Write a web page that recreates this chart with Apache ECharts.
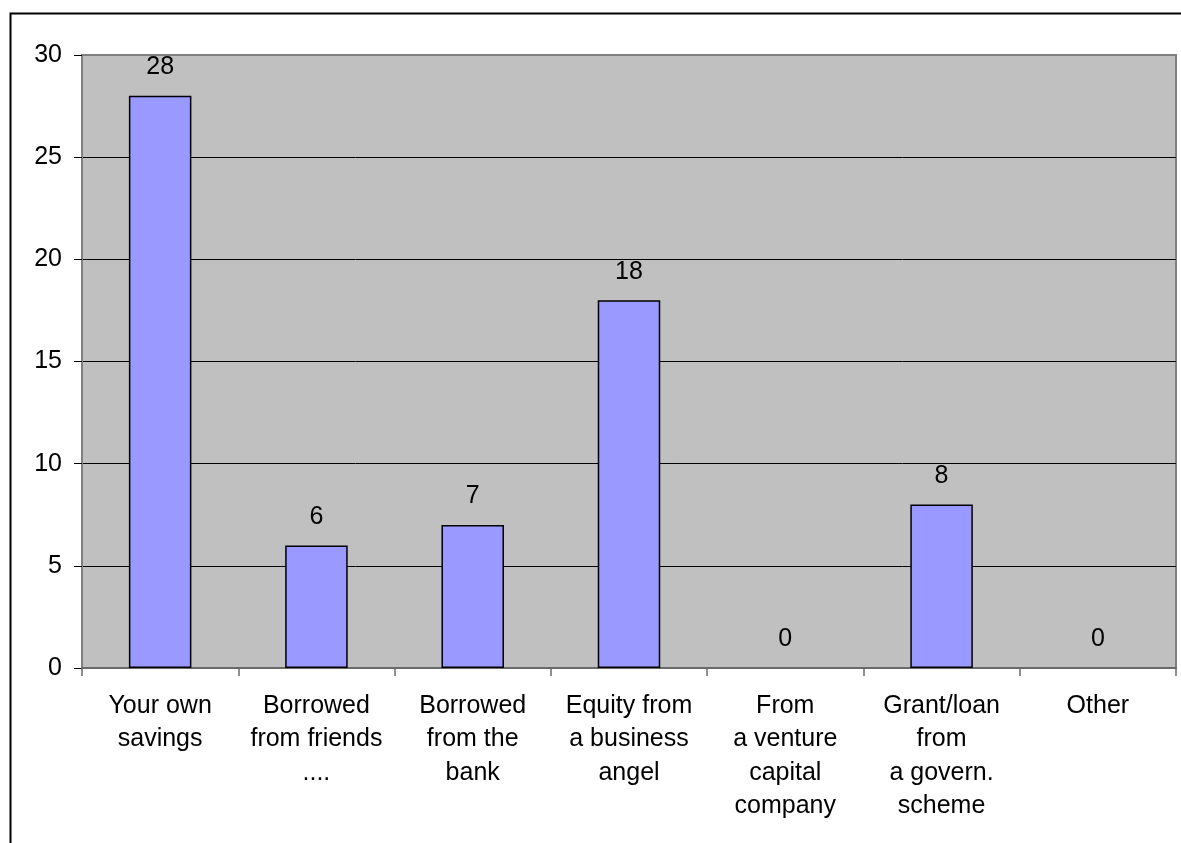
<!DOCTYPE html>
<html>
<head>
<meta charset="utf-8">
<script src="https://cdn.jsdelivr.net/npm/echarts@6/dist/echarts.min.js"></script>
<style>
  html, body { margin: 0; padding: 0; background: #fff; }
  #chart { width: 1181px; height: 843px; }
</style>
</head>
<body>
<div id="chart"></div>
<script>
// Sources of start-up finance: number of responses per source
const categories = [
  'Your own\nsavings',
  'Borrowed\nfrom friends\n....',
  'Borrowed\nfrom the\nbank',
  'Equity from\na business\nangel',
  'From\na venture\ncapital\ncompany',
  'Grant/loan\nfrom\na govern.\nscheme',
  'Other'
];
const responses = [28, 6, 7, 18, 0, 8, 0];
const yTicks = { min: 0, max: 30, interval: 5 };

const FONT = '"Liberation Sans", Arial, sans-serif';
const chart = echarts.init(document.getElementById('chart'), null, { renderer: 'canvas' });

// empty bars get no outline so only their value label shows
const barData = responses.map(v => (v === 0 ? { value: v, itemStyle: { borderWidth: 0 } } : v));

chart.setOption({
  backgroundColor: '#ffffff',
  animation: false,
  graphic: [{
    type: 'rect',
    shape: { x: 10.5, y: 13.5, width: 1200, height: 900 },
    style: { fill: 'none', stroke: '#000', lineWidth: 2 },
    silent: true,
    z: 100
  }],
  grid: {
    left: 82, top: 55, right: 5, bottom: 175,
    show: true,
    backgroundColor: '#c0c0c0',
    borderColor: '#808080',
    borderWidth: 2
  },
  xAxis: {
    type: 'category',
    data: categories,
    boundaryGap: true,
    axisLine: { show: true, lineStyle: { color: '#6a6a6a', width: 2 } },
    axisTick: { show: true, length: 8, alignWithLabel: false, lineStyle: { color: '#6a6a6a', width: 1.5 } },
    axisLabel: {
      interval: 0,
      margin: 21,
      color: '#000',
      fontFamily: FONT,
      fontSize: 25,
      lineHeight: 33.5,
      align: 'center'
    }
  },
  yAxis: {
    type: 'value',
    min: yTicks.min,
    max: yTicks.max,
    interval: yTicks.interval,
    axisLine: { show: true, lineStyle: { color: '#808080', width: 2 } },
    axisTick: { show: true, length: 8, lineStyle: { color: '#000', width: 1 } },
    axisLabel: { margin: 20, color: '#000', fontFamily: FONT, fontSize: 25 },
    splitLine: {
      show: true,
      lineStyle: { color: ['#000', '#000', '#000', '#000', '#000', '#000', '#808080'], width: 1 }
    }
  },
  series: [{
    type: 'bar',
    data: barData,
    barWidth: '40%',
    itemStyle: { color: '#9999ff', borderColor: '#000', borderWidth: 1.5 },
    label: {
      show: true,
      position: 'top',
      distance: 16,
      color: '#000',
      fontFamily: FONT,
      fontSize: 25
    }
  }]
});
</script>
</body>
</html>
